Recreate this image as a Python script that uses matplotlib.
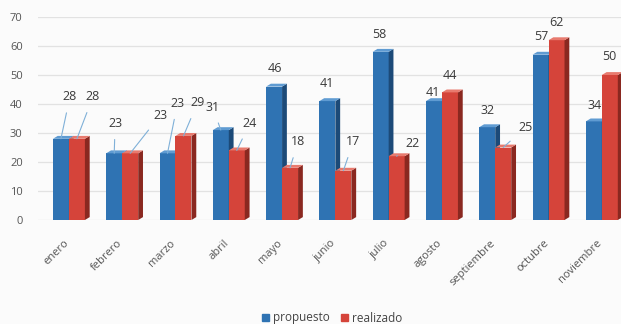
import numpy as np
import matplotlib.pyplot as plt
import matplotlib.transforms as mtransforms
from matplotlib.patches import Patch

meses = ['enero', 'febrero', 'marzo', 'abril', 'mayo', 'junio', 'julio',
         'agosto', 'septiembre', 'octubre', 'noviembre']
propuesto = [28, 23, 23, 31, 46, 41, 58, 41, 32, 57, 34]
realizado = [28, 23, 29, 24, 18, 17, 22, 44, 25, 62, 50]

# label offsets in pixels (dx, dy) from the top of each bar
off_prop = [(9, 42), (1, 30), (10, 50), (-8, 23), (1, 18), (0, 18), (-1, 17),
            (-1, 9), (0, 17), (1, 18), (1, 16)]
off_real = [(16, 42), (30, 38), (14, 33), (13, 27), (8, 26), (10, 29), (16, 13),
            (0, 17), (22, 20), (0, 18), (0, 18)]

plt.rcParams['font.family'] = ['Open Sans', 'DejaVu Sans']

fig = plt.figure(figsize=(6.21, 3.24), dpi=100)
fig.patch.set_facecolor('#fbfbfb')
ax = fig.add_axes([38 / 621, 104 / 324, 583 / 621, 203 / 324])
ax.set_facecolor('#fbfbfb')

x = np.arange(len(meses))
w = 0.30
d = 0.09   # depth of 3d side
dz = 1.0

ax.set_xlim(-0.58, 10.36)
ax.set_ylim(0, 70)

for yv in range(0, 80, 10):
    ax.axhline(yv, color='#e2e2e2', lw=0.9, zorder=0)

def bar3d(xc, h, front, side, top, z):
    x0, x1 = xc - w / 2, xc + w / 2
    ax.bar(xc, h, width=w, color=front, zorder=z, linewidth=0)
    ax.fill([x1, x1 + d, x1 + d, x1], [0, dz, h + dz, h], color=side, zorder=z, lw=0)
    ax.fill([x0, x0 + d, x1 + d, x1], [h, h + dz, h + dz, h], color=top, zorder=z, lw=0)

for i in range(len(meses)):
    bar3d(x[i] - w / 2, propuesto[i], '#2f73b3', '#1c4a78', '#5f9bd2', 2 + 2 * i)
    bar3d(x[i] + w / 2, realizado[i], '#d5443a', '#8a2820', '#e87a6e', 3 + 2 * i)

def etiqueta(xc, h, off):
    dx, dy = off
    lead = dy > 22 or abs(dx) > 12
    ax.annotate(str(h), xy=(xc, h), xytext=(dx * 0.72, dy * 0.72),
                textcoords='offset points', ha='center', va='center',
                fontsize=9, color='#3a3a3a', zorder=50,
                arrowprops=dict(arrowstyle='-', color='#7fb0d8', lw=0.8,
                                shrinkA=5, shrinkB=0) if lead else None)

for i in range(len(meses)):
    etiqueta(x[i] - w / 2, propuesto[i], off_prop[i])
    etiqueta(x[i] + w / 2, realizado[i], off_real[i])

for s in ax.spines.values():
    s.set_visible(False)
ax.set_yticks(range(0, 80, 10))
ax.tick_params(axis='y', length=0, labelsize=8, labelcolor='#555555', pad=11)
ax.set_xticks(x)
ax.set_xticklabels(meses, rotation=45, ha='right', rotation_mode='anchor')
ax.tick_params(axis='x', length=0, labelsize=8, labelcolor='#555555', pad=12)
shift = mtransforms.ScaledTranslation(-4 / 72, -1 / 72, fig.dpi_scale_trans)
for lbl in ax.get_xticklabels():
    lbl.set_transform(lbl.get_transform() + shift)

handles = [Patch(color='#2f73b3', label='propuesto'), Patch(color='#d5443a', label='realizado')]
fig.legend(handles=handles, loc='center', bbox_to_anchor=(332 / 621, 1 - 318 / 324),
           ncol=2, frameon=False, fontsize=8.5, handlelength=0.6, handleheight=0.6,
           handletextpad=0.3, columnspacing=1.0, labelcolor='#444444')

fig.savefig('out.png', dpi=100, facecolor=fig.get_facecolor())
